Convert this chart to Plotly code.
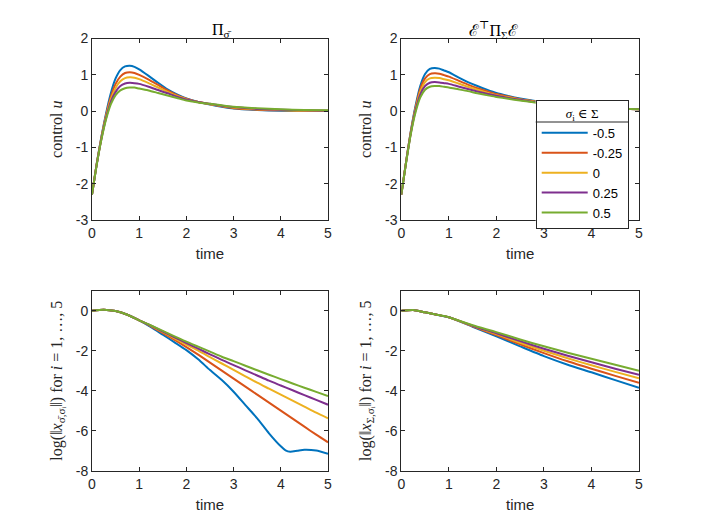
import plotly.graph_objects as go

# 数据：控制输入 u (上排) 与 log 范数 (下排)
sigma_labels = ["-0.5", "-0.25", "0", "0.25", "0.5"]
colors = ["#0072BD", "#D95319", "#EDB120", "#7E2F8E", "#77AC30"]

t_u = [0, 0.1, 0.2, 0.3, 0.4, 0.5, 0.6, 0.7, 0.8, 0.9, 1.0, 1.2, 1.4, 1.6, 1.8,
       2.0, 2.25, 2.5, 2.75, 3.0, 3.5, 4.0, 4.5, 5.0]

u_pi_blue = [-2.3, -1.45, -0.7, -0.05, 0.5, 0.9, 1.13, 1.23, 1.25, 1.22, 1.15, 0.97, 0.78, 0.6, 0.46,
             0.35, 0.25, 0.18, 0.12, 0.07, 0.03, 0.01, 0.0, 0.0]
u_pi_orange = [-2.3, -1.45, -0.72, -0.1, 0.4, 0.75, 0.95, 1.05, 1.07, 1.05, 1.0, 0.87, 0.72, 0.57, 0.44,
               0.34, 0.25, 0.19, 0.13, 0.08, 0.04, 0.02, 0.01, 0.0]
u_pi_yellow = [-2.3, -1.46, -0.74, -0.14, 0.33, 0.64, 0.82, 0.91, 0.93, 0.92, 0.88, 0.77, 0.65, 0.53, 0.42,
               0.33, 0.25, 0.19, 0.14, 0.1, 0.05, 0.03, 0.01, 0.01]
u_pi_purple = [-2.3, -1.47, -0.76, -0.18, 0.26, 0.53, 0.69, 0.76, 0.78, 0.77, 0.75, 0.67, 0.58, 0.49, 0.4,
               0.32, 0.25, 0.2, 0.15, 0.11, 0.06, 0.04, 0.02, 0.01]
u_pi_green = [-2.3, -1.48, -0.78, -0.22, 0.19, 0.44, 0.57, 0.63, 0.65, 0.65, 0.62, 0.57, 0.5, 0.43, 0.36,
              0.29, 0.24, 0.2, 0.16, 0.12, 0.08, 0.05, 0.03, 0.02]

u_ee_blue = [-2.3, -1.4, -0.55, 0.15, 0.7, 1.02, 1.16, 1.19, 1.17, 1.12, 1.07, 0.93, 0.8, 0.69, 0.59,
             0.5, 0.42, 0.35, 0.29, 0.24, 0.16, 0.11, 0.07, 0.05]
u_ee_orange = [-2.3, -1.4, -0.57, 0.1, 0.62, 0.9, 1.02, 1.04, 1.03, 0.99, 0.95, 0.84, 0.73, 0.63, 0.55,
               0.47, 0.4, 0.33, 0.28, 0.23, 0.16, 0.11, 0.07, 0.05]
u_ee_yellow = [-2.3, -1.41, -0.59, 0.06, 0.54, 0.8, 0.9, 0.92, 0.91, 0.88, 0.85, 0.76, 0.67, 0.59, 0.51,
               0.44, 0.38, 0.32, 0.27, 0.22, 0.16, 0.11, 0.07, 0.05]
u_ee_purple = [-2.3, -1.42, -0.61, 0.02, 0.46, 0.69, 0.78, 0.8, 0.79, 0.77, 0.75, 0.68, 0.61, 0.54, 0.48,
               0.42, 0.36, 0.31, 0.26, 0.22, 0.15, 0.11, 0.07, 0.05]
u_ee_green = [-2.3, -1.43, -0.63, -0.03, 0.38, 0.59, 0.67, 0.69, 0.69, 0.67, 0.65, 0.6, 0.55, 0.49, 0.44,
              0.39, 0.34, 0.29, 0.25, 0.21, 0.15, 0.1, 0.07, 0.05]

t_x = [0, 0.25, 0.5, 0.75, 1.0, 1.25, 1.5, 1.75, 2.0, 2.25, 2.5, 2.75, 3.0, 3.25, 3.5, 3.75,
       4.0, 4.25, 4.5, 4.75, 5.0]
t_x_blue = [0, 0.25, 0.5, 0.75, 1.0, 1.25, 1.5, 1.75, 2.0, 2.25, 2.5, 2.75, 3.0, 3.25, 3.5, 3.75,
            4.0, 4.1, 4.2, 4.35, 4.5, 4.75, 5.0]

x_pi_blue = [0, 0.05, -0.02, -0.2, -0.48, -0.82, -1.2, -1.58, -1.97, -2.43, -2.97, -3.47, -4.05, -4.72,
             -5.38, -6.13, -6.78, -6.98, -7.05, -7.0, -6.95, -6.99, -7.15]
x_pi_orange = [0, 0.05, -0.02, -0.2, -0.48, -0.78, -1.12, -1.46, -1.82, -2.2, -2.6, -3.0, -3.4, -3.8,
               -4.2, -4.6, -5.0, -5.4, -5.8, -6.2, -6.58]
x_pi_yellow = [0, 0.05, -0.02, -0.2, -0.48, -0.76, -1.07, -1.38, -1.7, -2.0, -2.32, -2.64, -2.96, -3.28,
               -3.6, -3.9, -4.2, -4.5, -4.8, -5.1, -5.38]
x_pi_purple = [0, 0.05, -0.02, -0.2, -0.48, -0.75, -1.04, -1.33, -1.62, -1.9, -2.18, -2.46, -2.72, -2.98,
               -3.24, -3.5, -3.74, -3.98, -4.22, -4.46, -4.7]
x_pi_green = [0, 0.05, -0.02, -0.2, -0.48, -0.74, -1.01, -1.28, -1.55, -1.8, -2.05, -2.3, -2.52, -2.75,
              -2.98, -3.2, -3.42, -3.64, -3.85, -4.06, -4.27]

t_xs = [0, 0.25, 0.5, 0.75, 1.0, 1.5, 2.0, 2.5, 3.0, 3.5, 4.0, 4.5, 5.0]
x_ee_blue = [0, 0.04, -0.08, -0.2, -0.33, -0.8, -1.28, -1.78, -2.27, -2.7, -3.08, -3.47, -3.85]
x_ee_orange = [0, 0.04, -0.08, -0.2, -0.33, -0.78, -1.22, -1.68, -2.12, -2.53, -2.9, -3.26, -3.6]
x_ee_yellow = [0, 0.04, -0.08, -0.2, -0.33, -0.76, -1.17, -1.6, -2.0, -2.38, -2.73, -3.06, -3.38]
x_ee_purple = [0, 0.04, -0.08, -0.2, -0.33, -0.75, -1.13, -1.52, -1.9, -2.25, -2.58, -2.9, -3.2]
x_ee_green = [0, 0.04, -0.08, -0.2, -0.33, -0.73, -1.07, -1.44, -1.78, -2.1, -2.4, -2.7, -3.0]

# 刻度
t_ticks = [0, 1, 2, 3, 4, 5]
u_ticks = [-3, -2, -1, 0, 1, 2]
x_ticks = [-8, -6, -4, -2, 0]

panels = [
    ("x", "y", [(t_u, u_pi_blue), (t_u, u_pi_orange), (t_u, u_pi_yellow), (t_u, u_pi_purple), (t_u, u_pi_green)], False),
    ("x2", "y2", [(t_u, u_ee_blue), (t_u, u_ee_orange), (t_u, u_ee_yellow), (t_u, u_ee_purple), (t_u, u_ee_green)], True),
    ("x3", "y3", [(t_x_blue, x_pi_blue), (t_x, x_pi_orange), (t_x, x_pi_yellow), (t_x, x_pi_purple), (t_x, x_pi_green)], False),
    ("x4", "y4", [(t_xs, x_ee_blue), (t_xs, x_ee_orange), (t_xs, x_ee_yellow), (t_xs, x_ee_purple), (t_xs, x_ee_green)], False),
]

fig = go.Figure()
for xa, ya, series, legend_on in panels:
    for (tt, vals), name, c in zip(series, sigma_labels, colors):
        fig.add_trace(go.Scatter(
            x=tt, y=vals, xaxis=xa, yaxis=ya, mode="lines", name=name,
            line=dict(color=c, width=2, shape="spline", smoothing=0.6),
            showlegend=legend_on,
        ))

axis_col = "#262626"
sans = "Liberation Sans, Arial"
serif = "Liberation Serif, DejaVu Serif, serif"
tick_font = dict(family=sans, size=14, color=axis_col)

# 页面 body 有 8px 外边距，这里把像素位置整体往回挪
W, H, OFF = 706, 529, 8


def px(x):
    return (x - OFF) / W


def py(y):
    return 1 - (y - OFF) / H


def ticktext(vals):
    return [str(v) for v in vals]  # 用普通连字符作负号


def xax(domain, anchor):
    return dict(domain=domain, anchor=anchor, range=[0, 5],
                tickvals=t_ticks, ticktext=ticktext(t_ticks), automargin=False,
                showline=True, mirror="ticks", linecolor=axis_col, linewidth=1,
                ticks="inside", ticklen=4, tickcolor=axis_col, showgrid=False, zeroline=False,
                tickfont=tick_font,
                title=dict(text="time", font=dict(family=sans, size=15, color=axis_col),
                           standoff=8))


def yax(domain, anchor, rng, tv, title):
    return dict(domain=domain, anchor=anchor, range=rng,
                tickvals=tv, ticktext=ticktext(tv), automargin=False,
                showline=True, mirror="ticks", linecolor=axis_col, linewidth=1,
                ticks="inside", ticklen=4, tickcolor=axis_col, showgrid=False, zeroline=False,
                tickfont=tick_font,
                title=dict(text=title, font=dict(family=serif, size=16, color=axis_col), standoff=9))


xl = [px(92), px(328)]
xr = [px(401.3), px(639)]
yt = [py(220), py(38.5)]
yb = [py(470.7), py(290.7)]

leg_left, leg_top = 535.7, 100
leg_w, leg_h = 93, 127
sep_at = leg_top + 22

fig.update_layout(
    width=W, height=H,
    margin=dict(l=0, r=0, t=0, b=0, autoexpand=False),
    paper_bgcolor="white", plot_bgcolor="white",
    xaxis=xax(xl, "y"), yaxis=yax(yt, "x", [-3, 2], u_ticks, "control <i>u</i>"),
    xaxis2=xax(xr, "y2"), yaxis2=yax(yt, "x2", [-3, 2], u_ticks, "control <i>u</i>"),
    xaxis3=xax(xl, "y3"),
    yaxis3=yax(yb, "x3", [-8, 1], x_ticks,
               "log(‖<i>x</i><sub>σ̄,σᵢ</sub>‖) for <i>i</i> = 1, …, 5"),
    xaxis4=xax(xr, "y4"),
    yaxis4=yax(yb, "x4", [-8, 1], x_ticks,
               "log(‖<i>x</i><sub>Σ,σᵢ</sub>‖) for <i>i</i> = 1, …, 5"),
    legend=dict(
        x=px(leg_left), y=py(leg_top), xanchor="left", yanchor="top",
        bgcolor="rgba(0,0,0,0)", bordercolor=axis_col, borderwidth=1,
        font=dict(family=sans, size=13, color="#000000"),
        title=dict(text="<i>σ</i><sub>i</sub> ∈ Σ", side="top center",
                   font=dict(family=serif, size=13, color="#000000")),
        tracegroupgap=0, itemwidth=46,
    ),
    annotations=[
        dict(text="Π<sub>σ̄</sub>", x=(xl[0] + xl[1]) / 2, y=py(31), xref="paper", yref="paper",
             yanchor="middle", showarrow=False,
             font=dict(family=serif, size=16, color="#000000")),
        dict(text="ℰ<sup>⊤</sup>Π<sub>Σ</sub>ℰ", x=(xr[0] + xr[1]) / 2, y=py(30),
             xref="paper", yref="paper", yanchor="middle", showarrow=False,
             font=dict(family=serif, size=16, color="#000000")),
    ],
    shapes=[
        # 图例白色底框与标题分隔线
        dict(type="rect", xref="paper", yref="paper", x0=px(leg_left), x1=px(leg_left + leg_w),
             y0=py(leg_top + leg_h), y1=py(leg_top),
             fillcolor="white", line=dict(width=0), layer="above"),
        dict(type="line", xref="paper", yref="paper", x0=px(leg_left), x1=px(leg_left + leg_w),
             y0=py(sep_at), y1=py(sep_at), line=dict(color=axis_col, width=1), layer="above"),
    ],
    showlegend=True,
)

fig.write_html("out.html")
